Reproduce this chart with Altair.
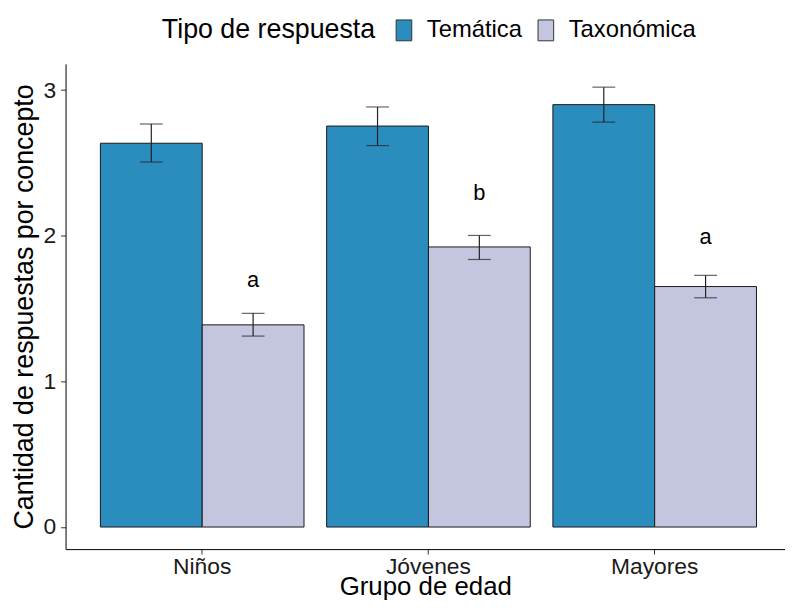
import altair as alt
import pandas as pd

grupos = ["Niños", "Jóvenes", "Mayores"]
tipos = ["Temática", "Taxonómica"]
colores = ["#2B8CBE", "#C4C6DF"]

tematica = [2.635, 2.753, 2.900]
tematica_lo = [2.506, 2.619, 2.780]
tematica_hi = [2.767, 2.884, 3.020]

taxonomica = [1.388, 1.923, 1.651]
taxonomica_lo = [1.311, 1.837, 1.574]
taxonomica_hi = [1.467, 2.002, 1.728]

letras = ["a", "b", "a"]
letras_y = [1.646, 2.245, 1.943]

y_ticks = [0, 1, 2, 3]

rows = []
for i, g in enumerate(grupos):
    rows.append({"grupo": g, "tipo": tipos[0], "valor": tematica[i],
                 "lo": tematica_lo[i], "hi": tematica_hi[i]})
    rows.append({"grupo": g, "tipo": tipos[1], "valor": taxonomica[i],
                 "lo": taxonomica_lo[i], "hi": taxonomica_hi[i]})
df = pd.DataFrame(rows)

df_letras = pd.DataFrame({"grupo": grupos, "tipo": [tipos[1]] * 3,
                          "letra": letras, "y": letras_y})

FONT = "Liberation Sans"

x_enc = alt.X("grupo:N", sort=grupos,
              scale=alt.Scale(paddingInner=0.1, paddingOuter=0.14, align=0.55, round=False),
              axis=alt.Axis(title="Grupo de edad", labelAngle=0, labelFontSize=23,
                            titleFontSize=26, labelPadding=2, titleY=46,
                            titleBaseline="alphabetic"))
xoff = alt.XOffset("tipo:N", sort=tipos,
                   scale=alt.Scale(paddingInner=0, paddingOuter=0, round=False))
y_scale = alt.Scale(domain=[-0.1515, 3.18], nice=False, zero=False)

symbol_path = "M-0.75,-1H0.75V1H-0.75Z"

bars = alt.Chart(df).mark_bar(stroke="#1a1a1a", strokeWidth=1, opacity=1).encode(
    x=x_enc,
    xOffset=xoff,
    y=alt.Y("valor:Q", scale=y_scale,
            axis=alt.Axis(title="Cantidad de respuestas por concepto", values=y_ticks,
                          format="d", labelFontSize=23, titleFontSize=27, labelPadding=5,
                          titleX=-41, titleBaseline="middle")),
    y2=alt.datum(0),
    fill=alt.Fill("tipo:N", sort=tipos,
                  scale=alt.Scale(domain=tipos, range=colores),
                  legend=alt.Legend(title="Tipo de respuesta", orient="none",
                                    direction="horizontal", legendX=97, legendY=-46,
                                    titleOrient="left", titleFontSize=27,
                                    titleFontWeight="normal", titleFont=FONT,
                                    titleColor="#000000", titlePadding=16,
                                    titleBaseline="middle", titleLimit=600,
                                    labelFontSize=24, labelFont=FONT, labelColor="#000000",
                                    labelOffset=11, columnPadding=11, labelLimit=300,
                                    symbolType=symbol_path, symbolSize=441,
                                    symbolStrokeColor="#333333", symbolStrokeWidth=1,
                                    symbolOpacity=1)),
)

whisk = alt.Chart(df).mark_rule(color="#222222", strokeWidth=1.2).encode(
    x=alt.X("grupo:N", sort=grupos),
    xOffset=xoff,
    y=alt.Y("lo:Q", scale=y_scale),
    y2="hi:Q",
)
cap_hi = alt.Chart(df).mark_tick(color="#222222", thickness=1.2, size=23,
                                 orient="horizontal").encode(
    x=alt.X("grupo:N", sort=grupos),
    xOffset=xoff,
    y=alt.Y("hi:Q", scale=y_scale),
)
cap_lo = alt.Chart(df).mark_tick(color="#222222", thickness=1.2, size=23,
                                 orient="horizontal").encode(
    x=alt.X("grupo:N", sort=grupos),
    xOffset=xoff,
    y=alt.Y("lo:Q", scale=y_scale),
)
texto = alt.Chart(df_letras).mark_text(fontSize=22, font=FONT, color="#000000",
                                       baseline="alphabetic", align="center").encode(
    x=alt.X("grupo:N", sort=grupos),
    xOffset=xoff,
    y=alt.Y("y:Q", scale=y_scale),
    text="letra:N",
)

chart = alt.layer(bars, whisk, cap_lo, cap_hi, texto).properties(
    width=725, height=489,
    autosize=alt.AutoSizeParams(type="none"),
    padding={"left": 58, "top": 54, "right": 0, "bottom": 49},
    background="white",
).configure_view(stroke=None).configure_axis(
    grid=False, domainColor="#000000", domainWidth=1, tickColor="#333333",
    tickSize=5, tickWidth=1, labelFont=FONT, titleFont=FONT,
    labelColor="#1a1a1a", titleColor="#000000", titleFontWeight="normal",
)

chart.save("out.html", embed_options={"renderer": "svg", "actions": False})
